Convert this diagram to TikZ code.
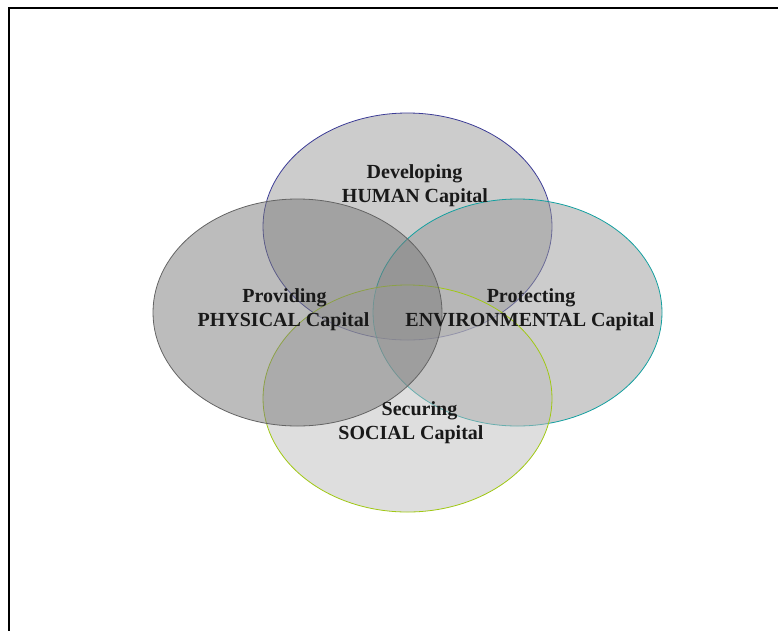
\documentclass[tikz,border=0pt]{standalone}
\usepackage{fontspec}
\setmainfont{Liberation Serif}
\definecolor{humanline}{RGB}{60,60,150}
\definecolor{physline}{RGB}{100,100,100}
\definecolor{envline}{RGB}{20,160,160}
\definecolor{socline}{RGB}{160,200,20}
\definecolor{humanfill}{gray}{0.60}
\definecolor{envfill}{gray}{0.60}
\definecolor{physfill}{gray}{0.48}
\definecolor{socfill}{gray}{0.74}
\tikzset{
  capital/.style={line width=0.8pt, fill opacity=0.5},
  lbl/.style={anchor=base, inner sep=0pt, font=\fontsize{20}{24}\selectfont\bfseries, text=black!90},
  frameline/.style={line width=2.2pt, black}
}
\begin{document}
\begin{tikzpicture}[x=1pt,y=-1pt]
\useasboundingbox (0,0) rectangle (778,630);
\draw[frameline] (9,632) -- (9,8) -- (780,8);
% ellipses
\path[capital, draw=humanline, fill=humanfill] (407.5,226.5) ellipse [x radius=144.5, y radius=113.5];
\path[capital, draw=envline, fill=envfill] (517.5,312.5) ellipse [x radius=144.5, y radius=113.5];
\path[capital, draw=socline, fill=socfill] (407.5,398.5) ellipse [x radius=144.5, y radius=113.5];
\path[capital, draw=physline, fill=physfill] (297.5,312.5) ellipse [x radius=144.5, y radius=113.5];
% labels
\node[lbl] (hum1) at (414.5,178) {Developing};
\node[lbl] (hum2) at (415,202) {HUMAN Capital};
\node[lbl] (phy1) at (284.5,302) {Providing};
\node[lbl] (phy2) at (283.5,326) {PHYSICAL Capital};
\node[lbl] (env1) at (531,302) {Protecting};
\node[lbl] (env2) at (530,326) {ENVIRONMENTAL Capital};
\node[lbl] (soc1) at (419.5,415) {Securing};
\node[lbl] (soc2) at (411,439) {SOCIAL Capital};
\end{tikzpicture}
\end{document}
